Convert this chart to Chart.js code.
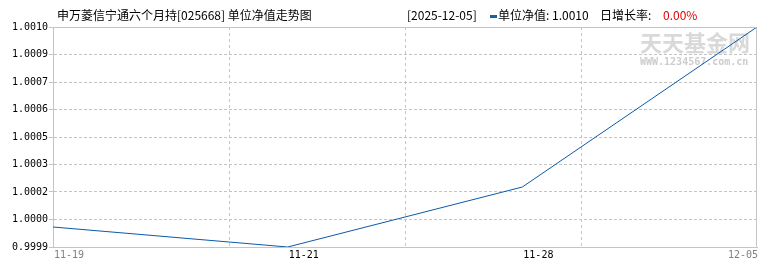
<!DOCTYPE html>
<html>
<head>
<meta charset="utf-8">
<script src="https://cdn.jsdelivr.net/npm/chart.js@4"></script>
<style>
  html, body { margin:0; padding:0; background:#fff; }
  #wrap { position:relative; width:770px; height:270px; overflow:hidden; }
  #chart { position:absolute; left:0; top:0; }
  .hd { position:absolute; top:8px; font:12px 'Noto Sans CJK SC', sans-serif; line-height:14px; color:#000; white-space:pre; }
  .bar { position:absolute; left:490px; top:15px; width:7px; height:3px; background:#1a5ea8; }
</style>
</head>
<body>
<div id="wrap">
  <canvas id="chart" width="770" height="270"></canvas>
  <div class="hd" style="left:57px">申万菱信宁通六个月持[025668] 单位净值走势图</div>
  <div class="hd" style="left:407px">[2025-12-05]</div>
  <div class="bar"></div>
  <div class="hd" style="left:498px">单位净值: 1.0010</div>
  <div class="hd" style="left:600px">日增长率:</div>
  <div class="hd" style="left:663px;color:#e00000">0.00%</div>
</div>
<script>
// 单位净值走势 — 4 pontos
const datas = ['11-19', '11-21', '11-28', '12-05'];
const jingzhi = [1.0000, 0.9999, 1.0002, 1.0010];
const yTickLabels = ['0.9999','1.0000','1.0002','1.0003','1.0005','1.0006','1.0007','1.0009','1.0010'];

const COR_LINHA = '#0b5aa8';
const COR_GRADE = '#c4c4c4';
const fonteMono = { family: "'DejaVu Sans Mono', monospace", size: 10 };

const yMin = Math.min(...jingzhi);
const yMax = Math.max(...jingzhi);
const nX = datas.length - 1;

// moldura (topo/direita) + marca d'água
const molduraPlugin = {
  id: 'moldura',
  beforeDatasetsDraw(chart) {
    const { ctx, chartArea: a } = chart;
    ctx.save();
    ctx.textBaseline = 'middle';
    ctx.textAlign = 'left';
    ctx.fillStyle = '#d9d9d9';
    ctx.font = "bold 22px 'Noto Sans CJK SC'";
    ctx.fillText('天天基金网', a.right - 117, 43);
    ctx.fillStyle = '#cdcdcd';
    ctx.font = "bold 10px 'DejaVu Sans Mono'";
    ctx.fillText('WWW.1234567.com.cn', a.right - 117, 62);
    ctx.restore();
  },
  afterDraw(chart) {
    const { ctx, chartArea: a } = chart;
    const l = Math.round(a.left) + 0.5, r = Math.round(a.right) - 0.5;
    const t = Math.round(a.top) + 0.5, b = Math.round(a.bottom) - 0.5;
    ctx.save();
    ctx.strokeStyle = COR_GRADE;
    ctx.lineWidth = 1;
    ctx.beginPath();
    ctx.moveTo(l, t); ctx.lineTo(r, t); ctx.lineTo(r, b);
    ctx.stroke();
    ctx.restore();
  }
};

new Chart(document.getElementById('chart'), {
  type: 'line',
  data: {
    datasets: [{
      label: '单位净值',
      data: jingzhi.map((v, i) => ({ x: i, y: v })),
      borderColor: COR_LINHA,
      borderWidth: 1,
      pointRadius: 0,
      tension: 0,
      fill: false
    }]
  },
  options: {
    responsive: false,
    animation: false,
    layout: { padding: { left: 0, right: 13, top: 27, bottom: 0 } },
    plugins: { legend: { display: false }, tooltip: { enabled: false } },
    scales: {
      y: {
        type: 'linear', min: yMin, max: yMax,
        afterBuildTicks: s => { s.ticks = yTickLabels.map((_, i) => ({ value: yMin + (yMax - yMin) * i / (yTickLabels.length - 1) })); },
        afterFit: s => { s.width = 53; s.paddingTop = 0; s.paddingBottom = 0; },
        ticks: { font: fonteMono, color: '#000', padding: 1, callback: (v, i) => yTickLabels[i] },
        grid: { color: COR_GRADE, tickLength: 4, tickBorderDash: [] },
        border: { color: COR_GRADE, dash: [3, 2] }
      },
      x: {
        type: 'linear', position: 'bottom', min: 0, max: nX, weight: -1,
        afterBuildTicks: s => { s.ticks = [0.25, 0.5, 0.75].map(f => ({ value: nX * f })); },
        afterFit: s => { s.height = 0; s.paddingLeft = 0; s.paddingRight = 0; },
        ticks: { display: false },
        grid: { color: COR_GRADE, drawTicks: false },
        border: { color: COR_GRADE, dash: [3, 3] }
      },
      xl: {
        type: 'linear', position: 'bottom', min: 0, max: nX, weight: 0,
        afterBuildTicks: s => { s.ticks = datas.map((_, i) => ({ value: i })); },
        afterFit: s => { s.height = 23; s.paddingLeft = 0; s.paddingRight = 0; },
        ticks: {
          font: fonteMono, align: 'inner', padding: 2, maxRotation: 0, autoSkip: false,
          labelOffset: 1,
          color: c => (c.index === 0 || c.index === nX) ? '#808080' : '#000',
          // rótulos do meio ficam à direita do ponto (espaços à esquerda, fonte mono)
          callback: (v, i) => (i === 0 || i === nX) ? datas[i] : ' '.repeat(datas[i].length) + datas[i]
        },
        grid: { display: false, drawTicks: false },
        border: { display: false }
      }
    }
  },
  plugins: [molduraPlugin]
});
</script>
</body>
</html>
